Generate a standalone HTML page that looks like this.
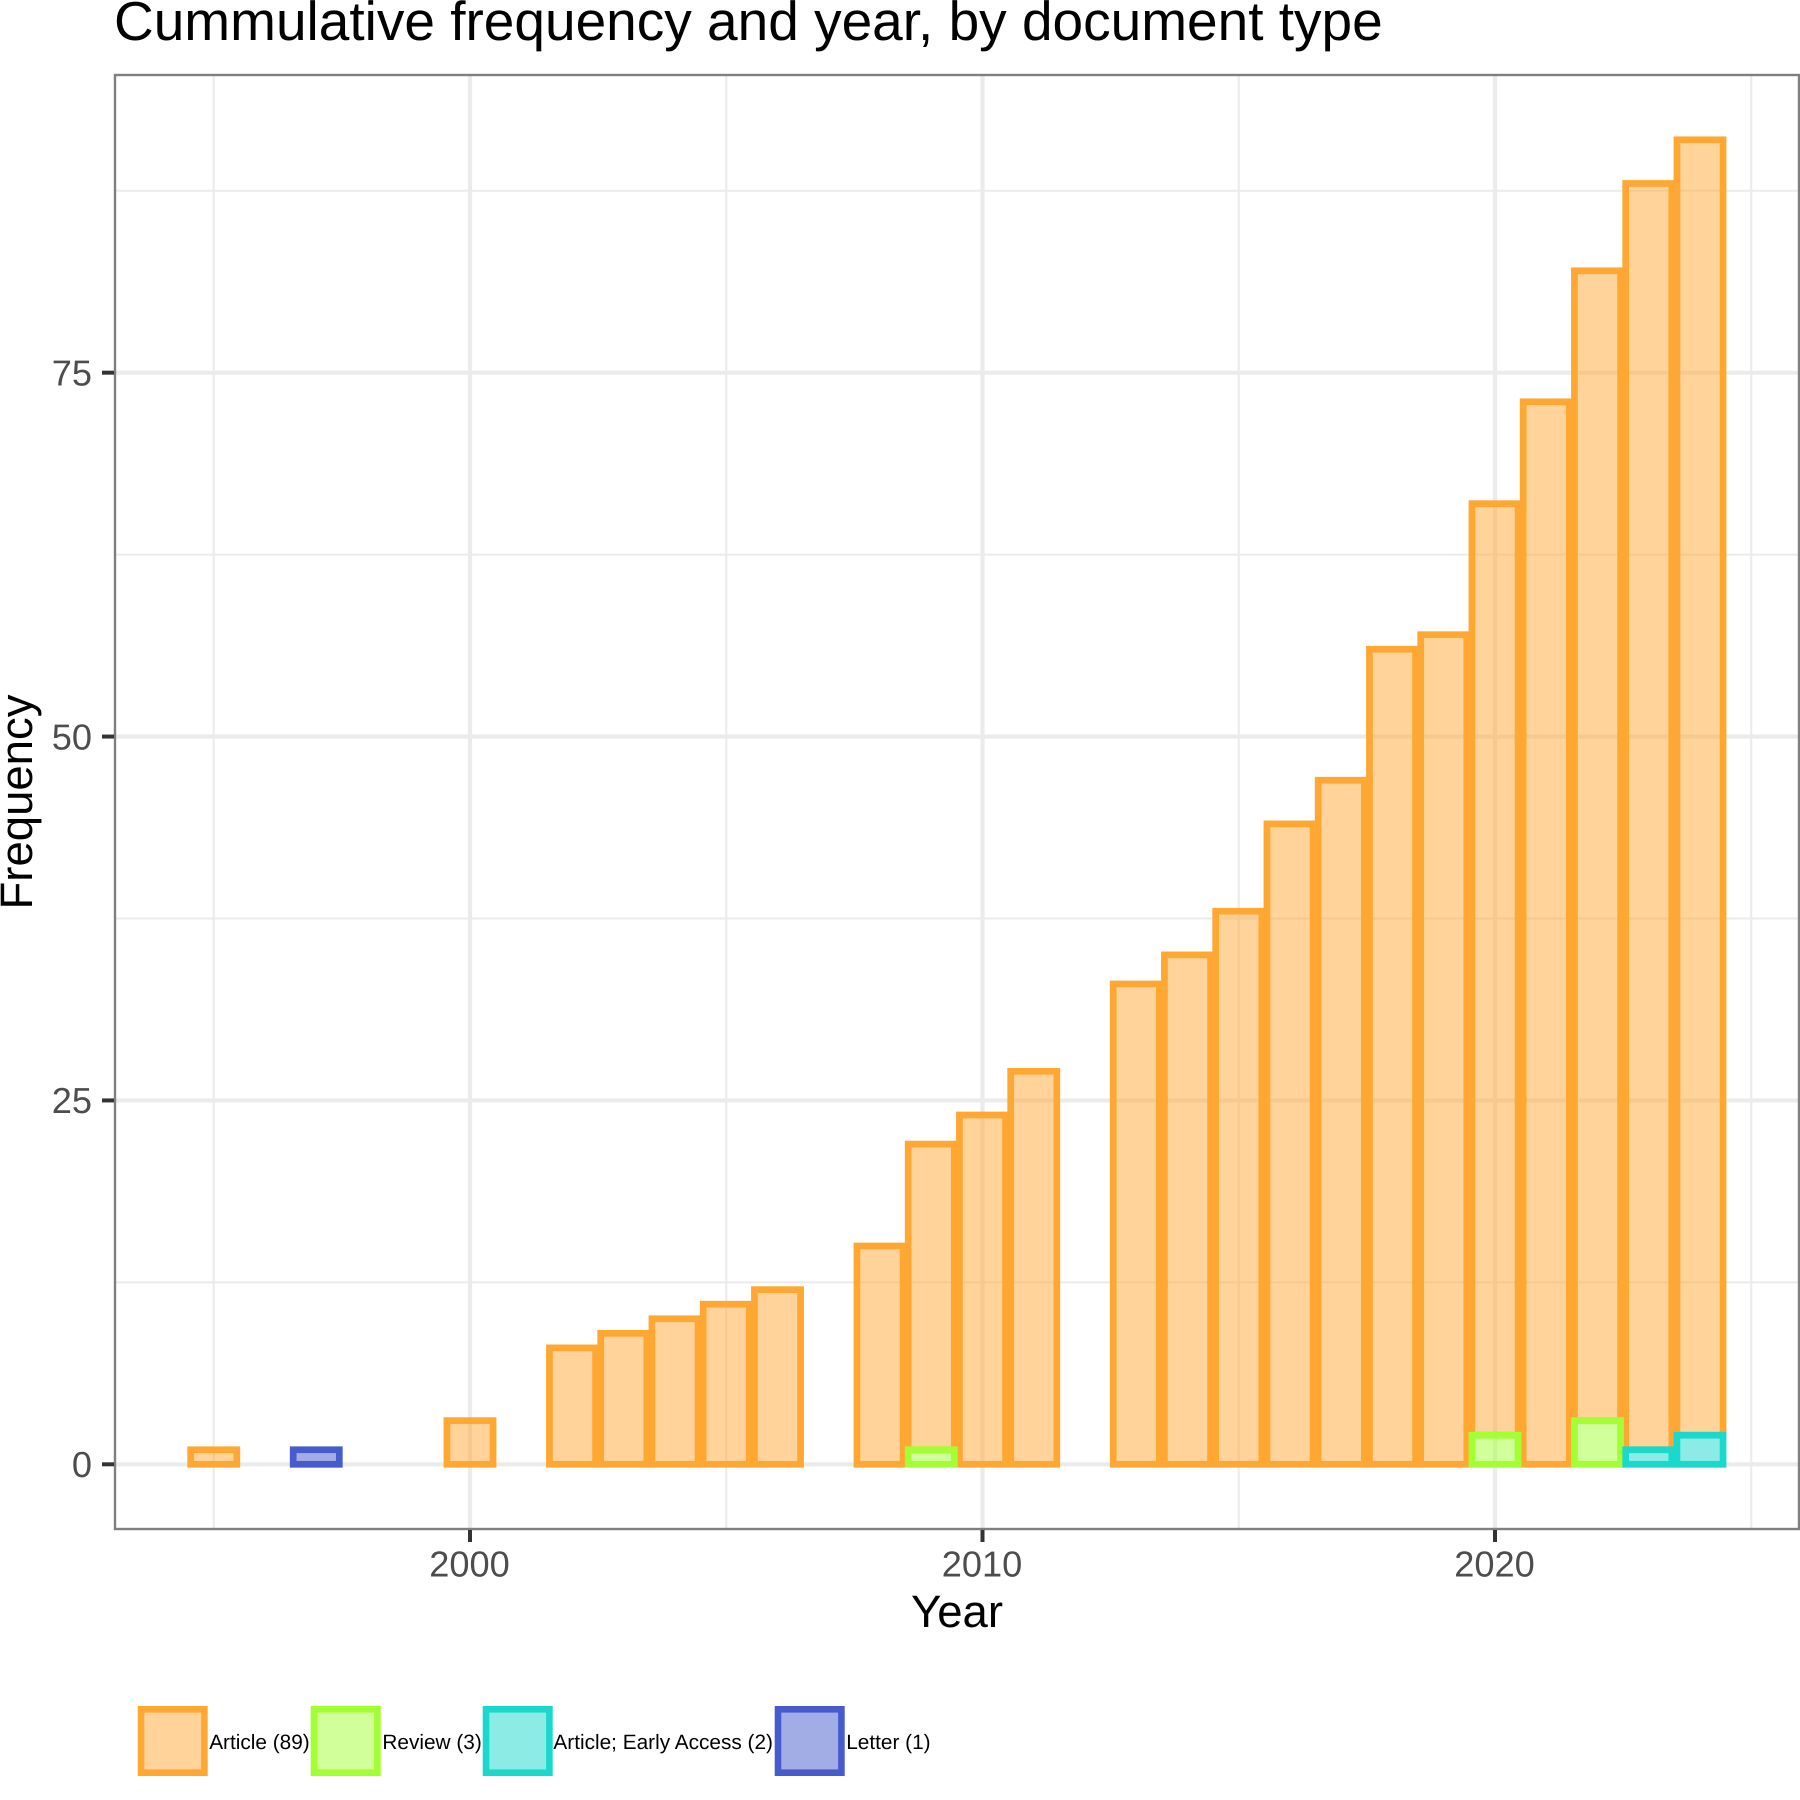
<!DOCTYPE html>
<html lang="en">
<head>
<meta charset="utf-8">
<title>Cummulative frequency and year, by document type</title>
<style>
  html, body { margin: 0; padding: 0; background: #fff; }
  body { width: 1800px; height: 1800px; overflow: hidden; }
  svg { display: block; font-family: "Liberation Sans", Arial, sans-serif; text-rendering: geometricPrecision; }
</style>
</head>
<body>
<svg id="chart" xmlns="http://www.w3.org/2000/svg" width="1800" height="1800" viewBox="0 0 1800 1800">
  <rect x="0" y="0" width="1800" height="1800" fill="#ffffff"/>
  <text x="114" y="40" font-size="55" fill="#000000">Cummulative frequency and year, by document type</text>
  <g id="grid"></g>
  <g id="bars"></g>
  <rect x="115" y="75" width="1684" height="1454" fill="none" stroke="#7f7f7f" stroke-width="2.4"/>
  <g id="axes"></g>
  <text x="957" y="1627" font-size="45.5" text-anchor="middle" fill="#000000">Year</text>
  <text transform="translate(32 802) rotate(-90)" font-size="45.5" text-anchor="middle" fill="#000000">Frequency</text>
  <g id="legend"></g>
</svg>
<script>
// Chart data (stacked: Article sits on top of the other document types)
const articleYears = [1995, 2000, 2002, 2003, 2004, 2005, 2006, 2008, 2009, 2010, 2011, 2013, 2014, 2015, 2016, 2017, 2018, 2019, 2020, 2021, 2022, 2023, 2024];
const articleValues = [1, 3, 8, 9, 10, 11, 12, 15, 21, 24, 27, 33, 35, 38, 44, 47, 56, 57, 64, 73, 79, 87, 89];
const reviewYears = [2009, 2020, 2022];
const reviewValues = [1, 2, 3];
const earlyAccessYears = [2023, 2024];
const earlyAccessValues = [1, 2];
const letterYears = [1997];
const letterValues = [1];
const xMajorTicks = [2000, 2010, 2020];
const xMinorTicks = [1995, 2005, 2015, 2025];
const yMajorTicks = [0, 25, 50, 75];
const yMinorTicks = [12.5, 37.5, 62.5, 87.5];
const legendLabels = ["Article (89)", "Review (3)", "Article; Early Access (2)", "Letter (1)"];

// Axis functions
const xScale = function (year) { return 470 + (year - 2000) * 51.25; };
const yScale = function (value) { return 1464.3 - value * 14.555; };

const SVG_NS = "http://www.w3.org/2000/svg";
const panel = { left: 115, right: 1799, top: 75, bottom: 1529 };
const barWidth = 0.9;
const orange = { stroke: "#ffa733", fill: "rgba(255,167,51,0.5)" };
const green = { stroke: "#a3ff33", fill: "rgba(163,255,51,0.5)" };
const teal = { stroke: "#1ad9cc", fill: "rgba(26,217,204,0.5)" };
const blue = { stroke: "#485bcc", fill: "rgba(72,91,204,0.5)" };

function make(tag, attrs, parent) {
  const el = document.createElementNS(SVG_NS, tag);
  Object.keys(attrs).forEach(function (k) { el.setAttribute(k, attrs[k]); });
  parent.appendChild(el);
  return el;
}

// Grid
const gridGroup = document.getElementById("grid");
yMinorTicks.forEach(function (v) {
  const el = make("line", { x1: panel.left, x2: panel.right, y1: yScale(v), y2: yScale(v), stroke: "#ebebeb", "stroke-width": 2.1 }, gridGroup);
  
  
});
xMinorTicks.forEach(function (v) {
  const el = make("line", { x1: xScale(v), x2: xScale(v), y1: panel.top, y2: panel.bottom, stroke: "#ebebeb", "stroke-width": 2.1 }, gridGroup);
  
  
});
yMajorTicks.forEach(function (v) {
  const el = make("line", { x1: panel.left, x2: panel.right, y1: yScale(v), y2: yScale(v), stroke: "#ebebeb", "stroke-width": 4.2 }, gridGroup);
  
  
});
xMajorTicks.forEach(function (v) {
  const el = make("line", { x1: xScale(v), x2: xScale(v), y1: panel.top, y2: panel.bottom, stroke: "#ebebeb", "stroke-width": 4.2 }, gridGroup);
  
  
});

// Stack offset: how much of the other document types sits below Article in a year
function amountIn(years, values, year) {
  const i = years.indexOf(year);
  return i < 0 ? 0 : values[i];
}
function articleBase(year) {
  return amountIn(reviewYears, reviewValues, year) +
         amountIn(earlyAccessYears, earlyAccessValues, year) +
         amountIn(letterYears, letterValues, year);
}
function noBase() { return 0; }

// Bars
const barsGroup = document.getElementById("bars");
function drawBars(years, values, baseOf, style, name) {
  years.forEach(function (year, i) {
    const baseValue = baseOf(year);
    const top = yScale(baseValue + values[i]);
    const base = yScale(baseValue);
    const left = xScale(year - barWidth / 2);
    const right = xScale(year + barWidth / 2);
    const el = make("rect", {
      x: left, y: top, width: right - left, height: base - top,
      fill: style.fill, stroke: style.stroke, "stroke-width": 6.7, "stroke-linejoin": "miter"
    }, barsGroup);
    
    
  });
}
drawBars(articleYears, articleValues, articleBase, orange, 'bar-article');
drawBars(reviewYears, reviewValues, noBase, green, 'bar-review');
drawBars(earlyAccessYears, earlyAccessValues, noBase, teal, 'bar-early-access');
drawBars(letterYears, letterValues, noBase, blue, 'bar-letter');

// Axes
const axesGroup = document.getElementById("axes");
xMajorTicks.forEach(function (v) {
  const tick = make("line", { x1: xScale(v), x2: xScale(v), y1: panel.bottom + 1, y2: panel.bottom + 13, stroke: "#333333", "stroke-width": 4 }, axesGroup);
  
  
  const label = make("text", { x: xScale(v) - 0.5, y: 1576.7, "font-size": 36.2, "text-anchor": "middle", fill: "#4d4d4d" }, axesGroup);
  label.textContent = String(v);
  
  
});
yMajorTicks.forEach(function (v) {
  const tick = make("line", { x1: panel.left - 13, x2: panel.left - 1, y1: yScale(v), y2: yScale(v), stroke: "#333333", "stroke-width": 4 }, axesGroup);
  
  
  const label = make("text", { x: 92, y: yScale(v) + 12.8, "font-size": 36.2, "text-anchor": "end", fill: "#4d4d4d" }, axesGroup);
  label.textContent = String(v);
  
  
});

// Legend
const legendGroup = document.getElementById("legend");
const legendStyles = [orange, green, teal, blue];
const legendKeyX = [141, 314, 486, 778];
const legendTextX = [209.2, 382.4, 553.4, 846.2];
legendLabels.forEach(function (text, i) {
  const key = make("rect", {
    x: legendKeyX[i], y: 1709.3, width: 63.4, height: 63.4,
    fill: legendStyles[i].fill, stroke: legendStyles[i].stroke, "stroke-width": 6.6
  }, legendGroup);
  
  
  const label = make("text", { x: legendTextX[i], y: 1749, "font-size": 20.8, fill: "#000000" }, legendGroup);
  label.textContent = text;
  
  
});
</script>
</body>
</html>
